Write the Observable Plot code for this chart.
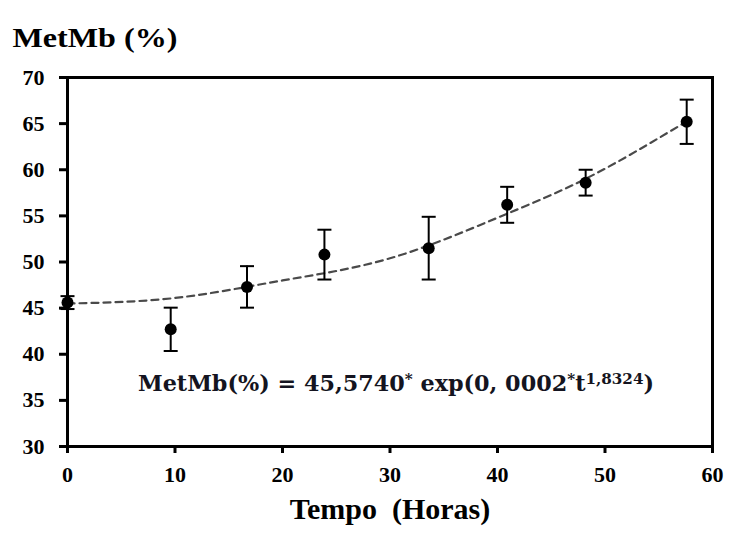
<!DOCTYPE html>
<html><head><meta charset="utf-8">
<script src="https://cdn.jsdelivr.net/npm/d3@7"></script>
<script src="https://cdn.jsdelivr.net/npm/@observablehq/plot@0.6"></script>
<style>html,body{margin:0;padding:0;background:#fff}</style>
</head><body><div id="chart"></div>
<script>
const timeHours = [0, 9.6, 16.7, 23.9, 33.6, 40.9, 48.2, 57.6];
const metmbMean = [45.6, 42.7, 47.3, 50.8, 51.5, 56.2, 58.6, 65.2];
const metmbErr  = [0.7, 2.35, 2.25, 2.7, 3.4, 1.95, 1.4, 2.4];

// Fitted (dashed) curve
const fitTime  = [0, 10, 20, 30, 40, 48.5, 57.4];
const fitValue = [45.5, 46.1, 48.0, 50.4, 54.8, 59.2, 65.1];

const xTicks = [0, 10, 20, 30, 40, 50, 60];
const yTicks = [30, 35, 40, 45, 50, 55, 60, 65, 70];
const yLabel = "MetMb (%)";
const xLabel = "Tempo  (Horas)";
const equationParts = [["MetMb(%) = 45,5740", "base"], ["*", "sup"], [" exp(0, 0002", "base"], ["*", "sup"], ["t", "base"], ["1,8324", "sup"], [")", "base"]];

const points = timeHours.map((t, i) => ({t, v: metmbMean[i], lo: metmbMean[i] - metmbErr[i], hi: metmbMean[i] + metmbErr[i]}));
const fit = fitTime.map((t, i) => ({t, v: fitValue[i]}));
const equationText = equationParts.map(d => d[0]).join("");

const capSymbol = {draw(ctx) { ctx.moveTo(-7, 0); ctx.lineTo(7, 0); }};
const serif = "Liberation Serif";

const chart = Plot.plot({
  width: 730, height: 537,
  marginLeft: 67, marginRight: 18, marginTop: 77, marginBottom: 91,
  style: {fontFamily: serif, fontWeight: "bold", fontSize: "22px", background: "#fff", color: "#000", overflow: "visible"},
  x: {domain: [0, 60]},
  y: {domain: [30, 70]},
  marks: [
    Plot.axisX({ticks: xTicks, tickSize: 7, tickPadding: 13, strokeWidth: 3, label: null, tickFormat: d => String(d), fontFamily: serif, fontSize: 22, fontWeight: "bold"}),
    Plot.axisY({ticks: yTicks, tickSize: 8, tickPadding: 15, strokeWidth: 3, label: null, tickFormat: d => String(d), fontFamily: serif, fontSize: 22, fontWeight: "bold"}),
    Plot.line(fit, {x: "t", y: "v", curve: "natural", stroke: "#4a4a4a", strokeWidth: 2.2, strokeDasharray: "7,5"}),
    Plot.ruleX(points, {x: "t", y1: "lo", y2: "hi", stroke: "#000", strokeWidth: 2}),
    Plot.dot(points, {x: "t", y: "lo", symbol: capSymbol, stroke: "#000", strokeWidth: 2}),
    Plot.dot(points, {x: "t", y: "hi", symbol: capSymbol, stroke: "#000", strokeWidth: 2}),
    Plot.dot(points, {x: "t", y: "v", r: 6, fill: "#000"}),
    Plot.frame({stroke: "#000", strokeWidth: 3}),
    Plot.text([yLabel], {frameAnchor: "top-left", textAnchor: "start", dx: -55, dy: -50, fontSize: 27, fontFamily: serif, fontWeight: "bold"}),
    Plot.text([xLabel], {frameAnchor: "bottom", dy: 72, fontSize: 30, fontFamily: serif, fontWeight: "bold"}),
    Plot.text([equationText], {frameAnchor: "bottom", dx: 6, dy: -56, fontSize: 22.3, fontFamily: "DejaVu Serif", fontWeight: "bold", fill: "#141420"})
  ]
});

const svg = d3.select(chart);
// Stretch the y title to the reference's width
svg.selectAll("text").filter(function() { return this.textContent === yLabel; })
  .attr("textLength", 165).attr("lengthAdjust", "spacingAndGlyphs");

// Rebuild the equation with superscripts
svg.selectAll("text").filter(function() { return this.textContent === equationText; }).each(function() {
  const t = d3.select(this);
  t.text(null);
  let prevSup = false;
  equationParts.forEach(([s, kind]) => {
    const sp = t.append("tspan").text(s);
    if (kind === "sup" && !prevSup) { sp.attr("dy", "-0.45em").attr("font-size", "0.68em"); prevSup = true; }
    else if (kind === "sup") { sp.attr("font-size", "0.68em"); }
    else if (prevSup) { sp.attr("dy", "0.306em"); prevSup = false; }
  });
});

document.getElementById("chart").append(chart);
</script>
</body></html>
